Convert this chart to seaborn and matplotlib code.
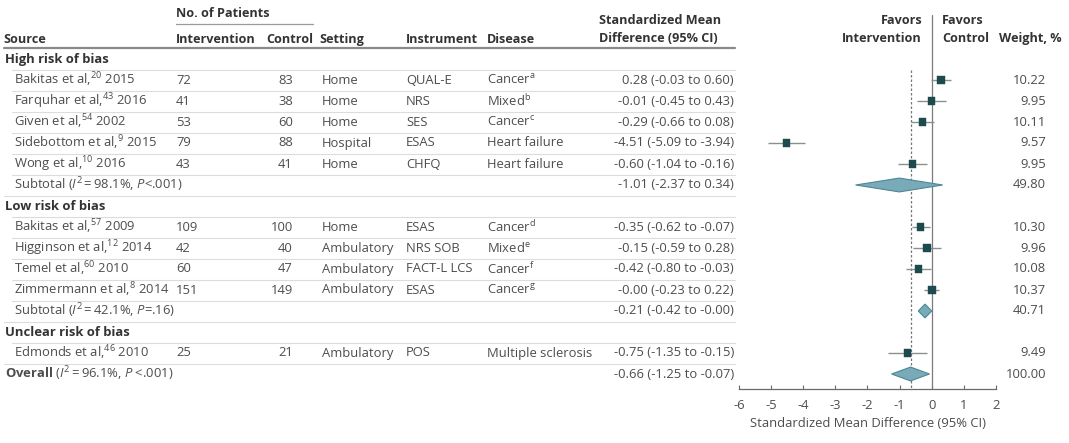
import numpy as np
import matplotlib
matplotlib.use("Agg")
import matplotlib.pyplot as plt
import seaborn as sns
import pandas as pd

# ---- data ----
groups = ["High risk of bias", "Low risk of bias", "Unclear risk of bias"]

study_group = [0, 0, 0, 0, 0, 1, 1, 1, 1, 2]
study_author = ["Bakitas", "Farquhar", "Given", "Sidebottom", "Wong",
                "Bakitas", "Higginson", "Temel", "Zimmermann", "Edmonds"]
study_ref = ["20", "43", "54", "9", "10", "57", "12", "60", "8", "46"]
study_year = [2015, 2016, 2002, 2015, 2016, 2009, 2014, 2010, 2014, 2010]
n_intervention = [72, 41, 53, 79, 43, 109, 42, 60, 151, 25]
n_control = [83, 38, 60, 88, 41, 100, 40, 47, 149, 21]
setting = ["Home", "Home", "Home", "Hospital", "Home",
           "Home", "Ambulatory", "Ambulatory", "Ambulatory", "Ambulatory"]
instrument = ["QUAL-E", "NRS", "SES", "ESAS", "CHFQ",
              "ESAS", "NRS SOB", "FACT-L LCS", "ESAS", "POS"]
disease = ["Cancer", "Mixed", "Cancer", "Heart failure", "Heart failure",
           "Cancer", "Mixed", "Cancer", "Cancer", "Multiple sclerosis"]
disease_note = ["a", "b", "c", "", "", "d", "e", "f", "g", ""]
smd = [0.28, -0.01, -0.29, -4.51, -0.60, -0.35, -0.15, -0.42, -0.00, -0.75]
ci_low = [-0.03, -0.45, -0.66, -5.09, -1.04, -0.62, -0.59, -0.80, -0.23, -1.35]
ci_high = [0.60, 0.43, 0.08, -3.94, -0.16, -0.07, 0.28, -0.03, 0.22, -0.15]
weight = [10.22, 9.95, 10.11, 9.57, 9.95, 10.30, 9.96, 10.08, 10.37, 9.49]

subtotal_i2 = ["98.1", "42.1"]
subtotal_p = ["<.001", "=.16"]
subtotal_smd = [-1.01, -0.21]
subtotal_low = [-2.37, -0.42]
subtotal_high = [0.34, -0.00]
subtotal_weight = [49.80, 40.71]

overall_i2 = "96.1"
overall_p = "<.001"
overall_smd = -0.66
overall_low = -1.25
overall_high = -0.07
overall_weight = 100.00

x_ticks = [-6, -5, -4, -3, -2, -1, 0, 1, 2]

# ---- build the row table ----
rows = []
for g, gname in enumerate(groups):
    rows.append(dict(kind="group", label=gname))
    for i in range(len(study_author)):
        if study_group[i] == g:
            rows.append(dict(kind="study", i=i))
    if g < len(subtotal_smd):
        rows.append(dict(kind="subtotal", g=g))
rows.append(dict(kind="overall"))
for r, row in enumerate(rows):
    row["r"] = r

sns.set_theme(style="white")
FONT = "Open Sans"
plt.rcParams["font.family"] = [FONT, "DejaVu Sans"]
plt.rcParams["mathtext.fontset"] = "custom"
plt.rcParams["mathtext.rm"] = FONT
plt.rcParams["mathtext.it"] = FONT + ":italic"
plt.rcParams["mathtext.bf"] = FONT + ":bold"

W, H = 1069, 443
fig = plt.figure(figsize=(W / 100, H / 100), dpi=100)
ax_t = fig.add_axes([0, 0, 1, 1])
ax_t.set_xlim(0, W)
ax_t.set_ylim(H, 0)
ax_t.axis("off")

ROW0, DY = 59, 21
FS = 9.4
FSH = 9.1
C_HEAD = "#333333"
C_TXT = "#4d4d4d"
TS = "\u2009"  # thin space around "="


def ypix(r):
    return ROW0 + DY * r


def fmt_ci(e, lo, hi):
    return f"{e:.2f} ({lo:.2f} to {hi:.2f})"


# header
hk = dict(fontsize=FSH, color=C_HEAD, fontweight="bold", va="center")
ax_t.text(176, 13, "No. of Patients", ha="left", **hk)
ax_t.plot([176, 313], [24, 24], color="#9a9a9a", lw=0.9)
ax_t.text(3, 39, "Source", ha="left", **hk)
ax_t.text(176, 39, "Intervention", ha="left", **hk)
ax_t.text(313, 39, "Control", ha="right", **hk)
ax_t.text(319, 39, "Setting", ha="left", **hk)
ax_t.text(406, 39, "Instrument", ha="left", **hk)
ax_t.text(487, 39, "Disease", ha="left", **hk)
ax_t.text(599, 20, "Standardized Mean", ha="left", **hk)
ax_t.text(599, 38, "Difference (95% CI)", ha="left", **hk)
ax_t.text(922, 20, "Favors", ha="right", **hk)
ax_t.text(922, 38, "Intervention", ha="right", **hk)
ax_t.text(942, 20, "Favors", ha="left", **hk)
ax_t.text(942, 38, "Control", ha="left", **hk)
ax_t.text(1062, 38, "Weight, %", ha="right", **hk)
ax_t.plot([4, 735], [48, 48], color="#8a8a8a", lw=1.6)

tk = dict(fontsize=FS, color=C_TXT, va="center")
for row in rows:
    y = ypix(row["r"])
    if row["kind"] == "group":
        ax_t.text(5, y, row["label"], ha="left", fontsize=FS, color=C_HEAD,
                  fontweight="bold", va="center")
    elif row["kind"] == "study":
        i = row["i"]
        ax_t.text(14, y, f"{study_author[i]} et al,$^{{{study_ref[i]}}}$ {study_year[i]}",
                  ha="left", **tk)
        ax_t.text(176, y, str(n_intervention[i]), ha="left", **tk)
        ax_t.text(293, y, str(n_control[i]), ha="right", **tk)
        ax_t.text(322, y, setting[i], ha="left", **tk)
        ax_t.text(406, y, instrument[i], ha="left", **tk)
        dz = disease[i] + (f"$^{{\\mathrm{{{disease_note[i]}}}}}$" if disease_note[i] else "")
        ax_t.text(487, y, dz, ha="left", **tk)
        ax_t.text(734, y, fmt_ci(smd[i], ci_low[i], ci_high[i]), ha="right", **tk)
        ax_t.text(1046, y, f"{weight[i]:.2f}", ha="right", **tk)
    elif row["kind"] == "subtotal":
        g = row["g"]
        ax_t.text(14, y, f"Subtotal ($\\mathit{{I}}^{{2}}${TS}={TS}{subtotal_i2[g]}%, "
                  f"$\\mathit{{P}}${subtotal_p[g]})", ha="left", **tk)
        ax_t.text(734, y, fmt_ci(subtotal_smd[g], subtotal_low[g], subtotal_high[g]),
                  ha="right", **tk)
        ax_t.text(1046, y, f"{subtotal_weight[g]:.2f}", ha="right", **tk)
    else:
        ax_t.text(5, y, f"$\\mathbf{{Overall}}$ ($\\mathit{{I}}^{{2}}${TS}={TS}{overall_i2}%, "
                  f"$\\mathit{{P}}$ {overall_p})", ha="left", **tk)
        ax_t.text(734, y, fmt_ci(overall_smd, overall_low, overall_high), ha="right", **tk)
        ax_t.text(1046, y, f"{overall_weight:.2f}", ha="right", **tk)

# separators between rows
for k in range(len(rows) - 1):
    nxt = rows[k + 1]["kind"]
    x0 = 12 if nxt in ("study", "subtotal") else 4
    yl = ypix(k) + DY / 2
    ax_t.plot([x0, 735], [yl, yl], color="#dcdcdc", lw=0.8)

# ---- forest panel ----
ax_f = fig.add_axes([739 / W, (H - 389) / H, (996 - 739) / W, (389 - 15) / H])
ax_f.set_facecolor("none")
ax_f.set_xlim(-6, 2)
ax_f.set_ylim((389 - ROW0) / DY, (15 - ROW0) / DY)

study_rows = [row["r"] for row in rows if row["kind"] == "study"]
df = pd.DataFrame(dict(row=study_rows, smd=smd, lo=ci_low, hi=ci_high, w=weight))

ax_f.axvline(0, color="#7a7a7a", lw=0.9, zorder=1)
ax_f.vlines(overall_smd, 0.5, (389 - ROW0) / DY, color="#777777", lw=0.9,
            linestyles=(0, (2.0, 1.6)), zorder=1)
ax_f.hlines(df["row"], df["lo"], df["hi"], color="#8a8f90", lw=1.0, zorder=2)
sns.scatterplot(data=df, x="smd", y="row", size="w", sizes=(26, 30), marker="s",
                color="#1d4b4d", edgecolor="#1d4b4d", linewidth=0.3,
                legend=False, ax=ax_f, zorder=3)

sub_rows = [row["r"] for row in rows if row["kind"] == "subtotal"]
over_row = [row["r"] for row in rows if row["kind"] == "overall"][0]
diamonds = list(zip(sub_rows, subtotal_smd, subtotal_low, subtotal_high))
diamonds.append((over_row, overall_smd, overall_low, overall_high))
for r, e, lo, hi in diamonds:
    h = 0.33
    ax_f.fill([lo, e, hi, e], [r, r - h, r, r + h], facecolor="#78aab7",
              edgecolor="#4e8796", lw=0.8, zorder=4)

ax_f.set_xticks(x_ticks)
ax_f.set_xticklabels([str(t) for t in x_ticks])
ax_f.set_yticks([])
ax_f.set_xlabel("Standardized Mean Difference (95% CI)", fontsize=FS, color=C_TXT,
                labelpad=4)
ax_f.set_ylabel("")
sns.despine(ax=ax_f, left=True, top=True, right=True)
ax_f.spines["bottom"].set_color("#6a6a6a")
ax_f.spines["bottom"].set_linewidth(0.9)
ax_f.tick_params(axis="x", direction="in", length=3, width=0.8, color="#6a6a6a",
                 labelsize=FS, labelcolor=C_TXT, pad=7, bottom=True)

fig.savefig("out.png", dpi=100)
